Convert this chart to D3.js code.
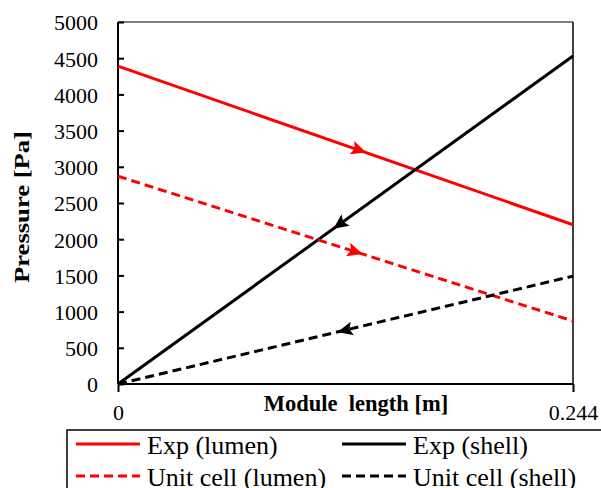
<!DOCTYPE html>
<html>
<head>
<meta charset="utf-8">
<script src="https://cdn.jsdelivr.net/npm/d3@7"></script>
<style>
  body { margin: 0; background: #fff; }
</style>
</head>
<body>
<script>
// data
var xVals = [0, 0.244];
var expLumen = [4390, 2200];
var expShell = [0, 4530];
var unitLumen = [2870, 870];
var unitShell = [0, 1490];
var yTicks = [0, 500, 1000, 1500, 2000, 2500, 3000, 3500, 4000, 4500, 5000];
var xTicks = [0, 0.244];

var FONT = '"Liberation Serif", "Times New Roman", serif';

var series = [
  {name: 'Exp (lumen)', vals: expLumen, color: '#ff0000', dash: null, arrowX: 0.129, dir: 1},
  {name: 'Exp (shell)', vals: expShell, color: '#000000', dash: null, arrowX: 0.119, dir: -1},
  {name: 'Unit cell (lumen)', vals: unitLumen, color: '#ff0000', dash: '9,5', arrowX: 0.127, dir: 1},
  {name: 'Unit cell (shell)', vals: unitShell, color: '#000000', dash: '9,5', arrowX: 0.122, dir: -1}
];

var w = 601, h = 488;
var svg = d3.select('body').append('svg').attr('width', w).attr('height', h)
  .style('font-family', FONT);

var pLeft = 118, pRight = 573, pTop = 22, pBottom = 384;
var x = d3.scaleLinear().domain([0, 0.244]).range([pLeft, pRight]);
var y = d3.scaleLinear().domain([0, 5000]).range([pBottom, pTop]);

// frame
svg.append('line').attr('x1', pLeft).attr('x2', pRight).attr('y1', pTop).attr('y2', pTop)
  .attr('stroke', '#555').attr('stroke-width', 1.5);
svg.append('line').attr('x1', pRight).attr('x2', pRight).attr('y1', pTop).attr('y2', pBottom)
  .attr('stroke', '#000').attr('stroke-width', 1.5);

// y axis, ticks inside
var yAxis = d3.axisLeft(y).tickValues(yTicks).tickSize(-6).tickPadding(20).tickFormat(d3.format('d'));
var gy = svg.append('g').attr('transform', 'translate(' + pLeft + ',0)').call(yAxis);
gy.attr('font-family', null).attr('font-size', null);
gy.select('.domain').attr('stroke-width', 2).attr('d', 'M0,' + pTop + 'V' + pBottom);
gy.selectAll('.tick line').attr('stroke-width', 2);
gy.selectAll('text').style('font-size', '22px').style('font-family', FONT).attr('dy', '0.36em');

// x axis, ticks outside
var xAxis = d3.axisBottom(x).tickValues(xTicks).tickSize(8)
  .tickFormat(function(d){ return d === 0 ? '0' : d3.format('.3f')(d); });
var gx = svg.append('g').attr('transform', 'translate(0,' + pBottom + ')').call(xAxis);
gx.attr('font-family', null).attr('font-size', null);
gx.select('.domain').attr('stroke-width', 2).attr('d', 'M' + pLeft + ',0H' + pRight);
gx.selectAll('.tick line').attr('stroke-width', 2);
gx.selectAll('text').style('font-size', '22px').style('font-family', FONT).attr('y', 36).attr('dy', 0);

// axis titles
svg.append('text').attr('x', 356).attr('y', 411).attr('text-anchor', 'middle')
  .style('font-family', FONT).style('font-size', '22.5px').attr('font-weight', 'bold')
  .attr('xml:space', 'preserve').text('Module  length [m]');
svg.append('text').attr('transform', 'translate(29,207) rotate(-90)').attr('text-anchor', 'middle')
  .style('font-family', FONT).style('font-size', '21px').attr('font-weight', 'bold')
  .attr('textLength', 152).attr('lengthAdjust', 'spacingAndGlyphs').text('Pressure [Pa]');

// lines
var line = d3.line().x(function(d, i){ return x(xVals[i]); }).y(function(d){ return y(d); });
svg.selectAll('.series').data(series).enter().append('path')
  .attr('class', 'series')
  .attr('d', function(d){ return line(d.vals); })
  .attr('fill', 'none')
  .attr('stroke', function(d){ return d.color; })
  .attr('stroke-width', 3)
  .attr('stroke-dasharray', function(d){ return d.dash; });

// direction arrows
svg.selectAll('.arrow').data(series).enter().append('path')
  .attr('class', 'arrow')
  .attr('d', 'M8,0 L-7,-7 L-4,0 L-7,7 Z')
  .attr('fill', function(d){ return d.color; })
  .attr('transform', function(d){
    var x0 = x(xVals[0]), x1 = x(xVals[1]);
    var y0 = y(d.vals[0]), y1 = y(d.vals[1]);
    var ang = Math.atan2(y1 - y0, x1 - x0) * 180 / Math.PI;
    if (d.dir < 0) ang += 180;
    var t = d.arrowX / 0.244;
    var px = x(d.arrowX), py = y(d.vals[0] + (d.vals[1] - d.vals[0]) * t);
    return 'translate(' + px + ',' + py + ') rotate(' + ang + ')';
  });

// legend
var lg = svg.append('g');
lg.append('rect').attr('x', 67).attr('y', 430).attr('width', 545).attr('height', 70)
  .attr('fill', 'none').attr('stroke', '#000').attr('stroke-width', 1.5);
var cols = [76, 342], rows = [444, 476];
series.forEach(function(s, i){
  var cx = cols[i % 2], cy = rows[Math.floor(i / 2)];
  lg.append('line').attr('x1', cx).attr('x2', cx + 64).attr('y1', cy).attr('y2', cy)
    .attr('stroke', s.color).attr('stroke-width', 3).attr('stroke-dasharray', s.dash);
  lg.append('text').attr('x', cx + 71).attr('y', cy + 10)
    .style('font-family', FONT).style('font-size', '26px').text(s.name);
});
</script>
</body>
</html>
